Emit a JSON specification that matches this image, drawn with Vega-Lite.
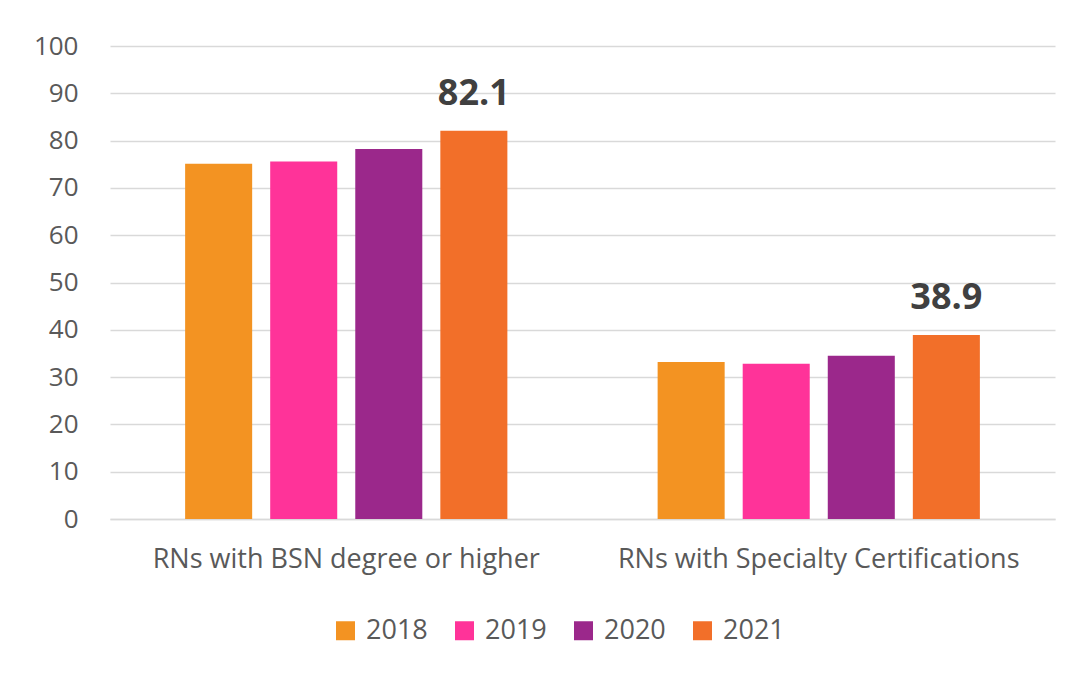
{
  "$schema": "https://vega.github.io/schema/vega-lite/v6.json",
  "width": 945,
  "height": 473,
  "autosize": {"type": "none"},
  "padding": {"left": 110, "top": 46, "right": 26, "bottom": 164},
  "background": "white",
  "config": {
    "view": {"stroke": null},
    "font": "Open Sans",
    "axis": {"labelFont": "Open Sans", "labelColor": "#595959", "gridColor": "#d9d9d9", "gridWidth": 1.5, "domain": false, "ticks": false},
    "legend": {"labelFont": "Open Sans", "labelColor": "#595959"}
  },
  "data": {
    "values": [
      {"category": "RNs with BSN degree or higher", "year": "2018", "value": 75.1},
      {"category": "RNs with BSN degree or higher", "year": "2019", "value": 75.6},
      {"category": "RNs with BSN degree or higher", "year": "2020", "value": 78.2},
      {"category": "RNs with BSN degree or higher", "year": "2021", "value": 82.1},
      {"category": "RNs with Specialty Certifications", "year": "2018", "value": 33.2},
      {"category": "RNs with Specialty Certifications", "year": "2019", "value": 32.8},
      {"category": "RNs with Specialty Certifications", "year": "2020", "value": 34.5},
      {"category": "RNs with Specialty Certifications", "year": "2021", "value": 38.9}
    ]
  },
  "encoding": {
    "x": {
      "field": "category", "type": "nominal", "title": null,
      "scale": {"paddingInner": 0.318, "paddingOuter": 0.159},
      "axis": {"labelAngle": 0, "labelFontSize": 27, "labelLimit": 0, "labelPadding": 27, "domain": true, "domainColor": "#d9d9d9", "domainWidth": 1.5}
    },
    "xOffset": {"field": "year", "type": "nominal", "scale": {"paddingInner": 0.212, "paddingOuter": 0}},
    "y": {
      "field": "value", "type": "quantitative", "title": null,
      "scale": {"domain": [0, 100], "nice": false},
      "axis": {"values": [0, 10, 20, 30, 40, 50, 60, 70, 80, 90, 100], "labelFontSize": 26, "labelPadding": 32}
    }
  },
  "layer": [
    {
      "mark": {"type": "bar"},
      "encoding": {
        "color": {
          "field": "year", "type": "nominal", "title": null,
          "scale": {"domain": ["2018", "2019", "2020", "2021"], "range": ["#F39322", "#FF3399", "#9B288B", "#F26F29"]},
          "legend": {"orient": "none", "legendX": 222, "legendY": 571, "direction": "horizontal", "symbolType": "square", "symbolSize": 361, "symbolStrokeWidth": 0, "labelFontSize": 27, "labelOffset": 7, "columnPadding": 23}
        }
      }
    },
    {
      "transform": [{"filter": "datum.year == '2021'"}],
      "mark": {"type": "text", "fontSize": 36, "fontWeight": "bold", "color": "#404040", "baseline": "bottom", "dy": -18},
      "encoding": {"text": {"field": "value", "type": "quantitative", "format": ".1f"}}
    }
  ]
}
